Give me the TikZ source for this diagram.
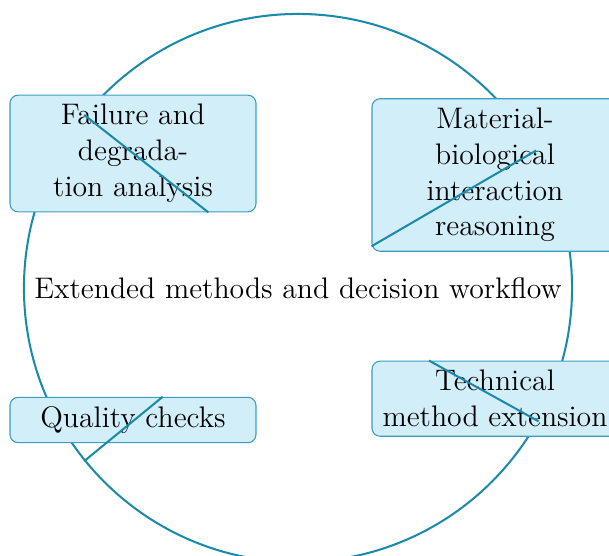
\documentclass[tikz,border=0pt]{standalone}
\definecolor{ringc}{RGB}{26,138,171}
\definecolor{boxfill}{RGB}{210,238,249}
\definecolor{boxline}{RGB}{58,158,194}
\begin{document}
\begin{tikzpicture}[x=0.37pt,y=-0.37pt,
  every node/.style={font=\fontsize{11}{13.25}\selectfont},
  ringnode/.style={draw=ringc, line width=0.75pt, circle, minimum size=202.8pt, inner sep=0pt},
  topic/.style={draw=boxline, line width=0.4pt, fill=boxfill, rounded corners=3pt,
    minimum width=91pt, align=center, inner sep=3.4pt},
  link/.style={draw=ringc, line width=0.75pt}]
\useasboundingbox (0,0) rectangle (609,556);
\node[ringnode] (ring) at (298,288) {Extended methods and decision workflow};
\node[topic] (fail) at (133,153.5) {Failure and\\degrada-\\tion analysis};
\node[topic] (mat) at (495,175) {Material-\\biological\\interaction\\reasoning};
\node[topic] (qual) at (133,420) {Quality checks};
\node[topic] (tech) at (495,398.7) {Technical\\method extension};
\draw[link] (ring.141) -- (fail.-38.7);
\draw[link] (ring.30) -- (mat.210);
\draw[link] (ring.-141) -- (qual.38.7);
\draw[link] (ring.-29) -- (tech.150);
\end{tikzpicture}
\end{document}
